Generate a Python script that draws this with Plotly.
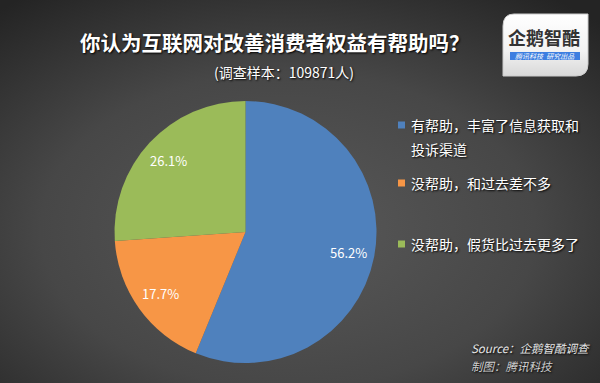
import plotly.graph_objects as go
import base64
import math

labels = ["有帮助，丰富了信息获取和投诉渠道", "没帮助，和过去差不多", "没帮助，假货比过去更多了"]
legend_texts = ["有帮助，丰富了信息获取和<br>投诉渠道", "没帮助，和过去差不多", "没帮助，假货比过去更多了"]
values = [56.2, 17.7, 26.1]
colors = ["#4f81bd", "#f79646", "#9bbb59"]

title = "你认为互联网对改善消费者权益有帮助吗？"
subtitle = "(调查样本：109871人)"
source1 = "Source：企鹅智酷调查"
source2 = "制图：腾讯科技"

W, H = 600, 383
FONT = "Noto Sans CJK SC, sans-serif"
CX, CY, R = 245.5, 232, 131

svg = f'''<svg xmlns="http://www.w3.org/2000/svg" width="{W}" height="{H}">
<defs><radialGradient id="g" cx="0.48" cy="0.6" r="0.75">
<stop offset="0" stop-color="#595959"/><stop offset="0.55" stop-color="#474747"/><stop offset="1" stop-color="#242424"/>
</radialGradient>
<linearGradient id="lg" x1="0" y1="0" x2="0" y2="1">
<stop offset="0" stop-color="#ffffff"/><stop offset="0.6" stop-color="#f2f2f2"/><stop offset="1" stop-color="#d8d8d8"/>
</linearGradient></defs>
<rect width="{W}" height="{H}" fill="url(#g)"/>
<path d="M514,14 H588 V64 Q588,76 576,76 H503 V26 Q503,14 514,14 Z" fill="url(#lg)" stroke="#cccccc" stroke-width="1"/>
<rect x="510" y="52" width="70" height="8" fill="#3d7ee0"/>
</svg>'''
src = "data:image/svg+xml;base64," + base64.b64encode(svg.encode("utf-8")).decode()

fig = go.Figure()
fig.add_trace(go.Pie(
    labels=labels, values=values,
    marker=dict(colors=colors, line=dict(width=0)),
    sort=False, direction="clockwise", rotation=0,
    textinfo="none",
    domain=dict(x=[(CX - R) / W, (CX + R) / W], y=[(H - CY - R) / H, (H - CY + R) / H]),
    showlegend=False, hoverinfo="label+percent",
))

annotations = []
def px_ann(text, x, y, size, color="white", bold=False, xanchor="left", italic=False, shadow="1px 1px 2px #000"):
    t = text
    if bold:
        t = f"<b>{t}</b>"
    if italic:
        t = f"<i>{t}</i>"
    annotations.append(dict(text=t, x=x / W, y=1 - y / H, xref="paper", yref="paper",
                            xanchor=xanchor, yanchor="middle", showarrow=False,
                            font=dict(size=size, color=color, family=FONT, shadow=shadow), align="left"))

# slice labels placed at 0.8 radius along each slice's mid-angle
total = sum(values)
cum = 0.0
for v in values:
    mid = (cum + v / 2) / total * 2 * math.pi
    cum += v
    lx = CX + 0.8 * R * math.sin(mid)
    ly = CY - 0.8 * R * math.cos(mid)
    px_ann(f"{v:.1f}%", lx, ly, 13, xanchor="center", shadow="none")

px_ann(title, 275, 42, 20.5, bold=True, xanchor="center")
px_ann(subtitle, 284, 72, 14, xanchor="center")

shapes = []
legend_y = [125, 183, 244]
for i, (t, c) in enumerate(zip(legend_texts, colors)):
    y = legend_y[i]
    shapes.append(dict(type="rect", xref="paper", yref="paper", x0=398 / W, x1=405 / W,
                       y0=1 - (y + 3.5) / H, y1=1 - (y - 3.5) / H, fillcolor=c, line=dict(width=0)))
    if "<br>" in t:
        a, b = t.split("<br>")
        px_ann(a, 409, y, 14)
        px_ann(b, 409, y + 24, 14)
    else:
        px_ann(t, 409, y, 14)

px_ann(source1, 469, 348, 11.5, color="#e6e6e6", italic=True)
px_ann(source2, 469, 366, 11.5, color="#cfcfcf", italic=True)

# logo text
px_ann("企鹅智酷", 544, 37, 18, color="#333333", bold=True, xanchor="center", shadow="none")
px_ann("腾讯科技  研究出品", 545, 56, 7, color="white", italic=True, xanchor="center", shadow="none")

fig.update_layout(
    width=W, height=H, margin=dict(l=0, r=0, t=0, b=0),
    paper_bgcolor="#3a3a3a", plot_bgcolor="rgba(0,0,0,0)",
    images=[dict(source=src, xref="paper", yref="paper", x=0, y=1, sizex=1, sizey=1,
                 xanchor="left", yanchor="top", sizing="stretch", layer="below")],
    annotations=annotations, shapes=shapes, showlegend=False,
)
fig.write_html("out.html", config={"displayModeBar": False},
               post_script="document.body.style.margin='0';document.body.style.overflow='hidden';")
